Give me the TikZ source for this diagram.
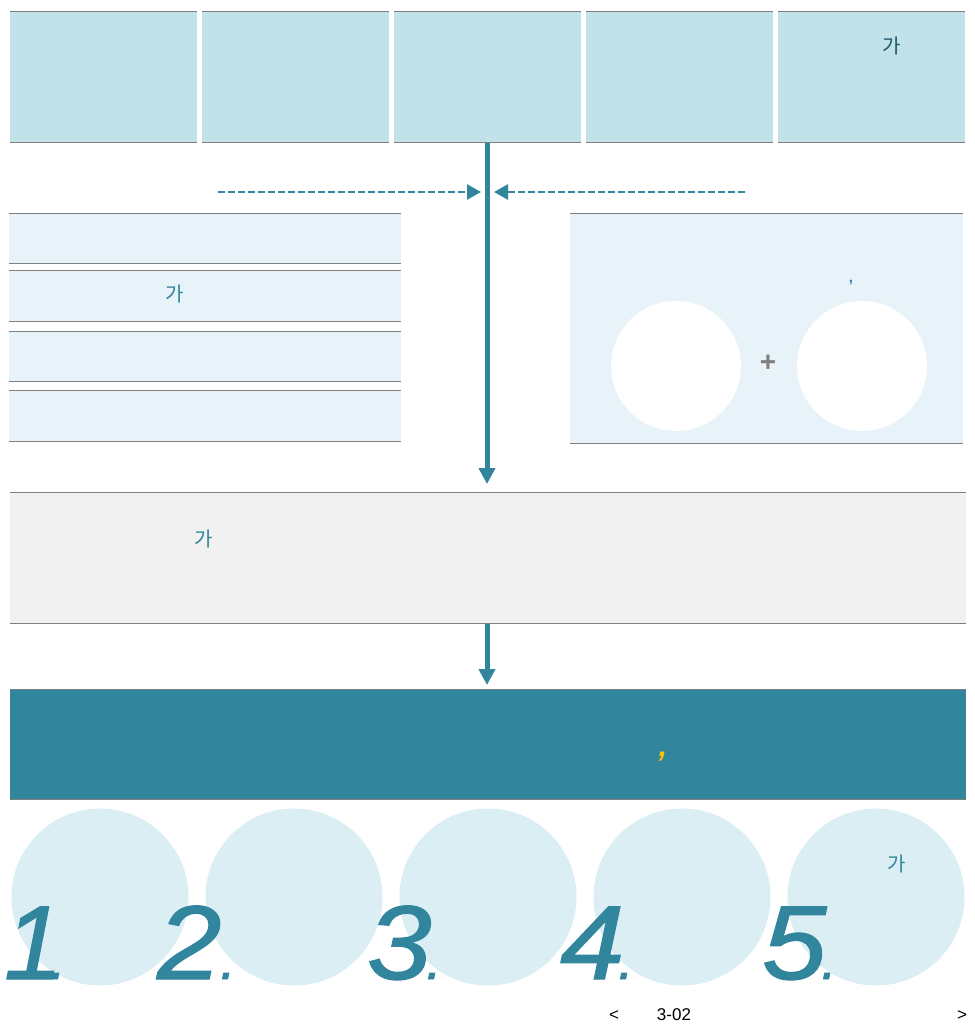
\documentclass[tikz,border=0pt]{standalone}
\usepackage{fontspec}
\setmainfont{Liberation Sans}
\newfontfamily\kr{Noto Sans CJK KR}
\newfontfamily\numfont{Liberation Sans}[FakeBold=1.2]
\usetikzlibrary{arrows.meta}
\definecolor{teal}{HTML}{31859C}
\definecolor{darkteal}{HTML}{215968}
\definecolor{topc}{HTML}{C2E2EA}
\definecolor{lightc}{HTML}{E7F3F8}
\definecolor{grayc}{HTML}{F1F1F1}
\definecolor{circc}{HTML}{DBEEF3}
\definecolor{rulec}{HTML}{7F7F7F}
\definecolor{yel}{HTML}{FFC000}
\tikzset{
  box/.style={inner sep=0pt, anchor=north west, draw=none},
  topbox/.style={box, fill=topc, minimum width=187pt, minimum height=131pt},
  rowbox/.style={box, fill=lightc, minimum width=392pt, minimum height=50pt},
  rulel/.style={draw=rulec, line width=1pt},
  mainarrow/.style={draw=teal, line width=5pt, -{Triangle[length=16pt,width=16pt]}},
  dasharrow/.style={draw=teal, line width=2.5pt, dash pattern=on 7pt off 3pt, -{Triangle[length=14pt,width=15pt]}},
  krtext/.style={font=\kr\fontsize{20}{24}\selectfont, text=teal, inner sep=0pt},
  bigcirc/.style={circle, fill=circc, minimum size=177pt, inner sep=0pt},
  whcirc/.style={circle, fill=white, minimum size=130pt, inner sep=0pt},
  numtext/.style={font=\numfont\itshape\fontsize{105}{105}\selectfont, text=teal, inner sep=0pt, anchor=base west},
  dottext/.style={font=\numfont\itshape\fontsize{56}{56}\selectfont, text=teal, inner sep=0pt, anchor=base west},
  foot/.style={font=\fontsize{17}{20}\selectfont, text=black, inner sep=0pt, anchor=base}
}
\begin{document}
\begin{tikzpicture}[x=1pt,y=-1pt]
\useasboundingbox (0,0) rectangle (975,1026);
% top boxes
\foreach \i/\x in {1/10,2/202,3/394,4/586,5/778}{
  \node[topbox] (t\i) at (\x,11) {};
  \draw[rulel] (t\i.north west) -- (t\i.north east);
  \draw[rulel] (t\i.south west) -- (t\i.south east);
}
\node[krtext, text=darkteal] (t5k) at (892,46) {가};
% left rows
\node[rowbox] (r1) at (9,213) {};
\node[rowbox, minimum height=51pt] (r2) at (9,270) {};
\node[rowbox] (r3) at (9,331) {};
\node[rowbox, minimum height=51pt] (r4) at (9,390) {};
\foreach \i in {1,...,4}{
  \draw[rulel] (r\i.north west) -- (r\i.north east);
  \draw[rulel] (r\i.south west) -- (r\i.south east);
}
\node[krtext] (r2k) at (175,294) {가};
% right box
\node[box, fill=lightc, minimum width=393pt, minimum height=230pt] (rb) at (570,213) {};
\draw[rulel] (rb.north west) -- (rb.north east);
\draw[rulel] (rb.south west) -- (rb.south east);
\node[whcirc] (w1) at (676,366) {};
\node[whcirc] (w2) at (862,366) {};
\node[inner sep=0pt, font=\bfseries\fontsize{28}{28}\selectfont, text=rulec] (plus) at (768,363) {+};
\node[inner sep=0pt, font=\bfseries\fontsize{15}{15}\selectfont, text=teal] (comma1) at (851,283) {,};
% gray box
\node[box, fill=grayc, minimum width=956pt, minimum height=131pt] (gb) at (10,492) {};
\draw[rulel] (gb.north west) -- (gb.north east);
\draw[rulel] (gb.south west) -- (gb.south east);
\node[krtext] (gbk) at (204,539) {가};
% teal box
\node[box, fill=teal, minimum width=956pt, minimum height=110pt] (tb) at (10,689) {};
\draw[rulel] (tb.north west) -- (tb.north east);
\draw[rulel] (tb.south west) -- (tb.south east);
\node[inner sep=0pt, font=\bfseries\itshape\fontsize{30}{30}\selectfont, text=yel] (comma2) at (663,757) {,};
% arrows
\coordinate (a1s) at (487,143);
\coordinate (a1e) at (487,484);
\draw[mainarrow] (a1s) -- (a1e);
\coordinate (a2s) at (487,624);
\coordinate (a2e) at (487,685);
\draw[mainarrow] (a2s) -- (a2e);
\coordinate (dl) at (218,192);
\coordinate (dlt) at (481,192);
\coordinate (dr) at (745,192);
\coordinate (drt) at (494,192);
\draw[dasharrow] (dl) -- (dlt);
\draw[dasharrow] (dr) -- (drt);
% bottom circles
\foreach \i/\x in {1/100,2/294,3/488,4/682,5/876}{
  \node[bigcirc] (c\i) at (\x,897) {};
}
\node[krtext] (c5k) at (897,864) {가};
\node[numtext] (n1) at (4,979) {1};
\node[dottext] (d1) at (50,979) {.};
\foreach \i/\x/\d in {2/157/220,3/367/426,4/560/618,5/762/821}{
  \node[numtext] (n\i) at (\x,979) {\scalebox{1.1}[1]{\i}};
  \node[dottext] (d\i) at (\d,979) {.};
}
% footer
\node[foot] (fl) at (614,1020) {<};
\node[foot] (fp) at (674,1020) {3-02};
\node[foot] (fr) at (962,1020) {>};
\end{tikzpicture}
\end{document}
